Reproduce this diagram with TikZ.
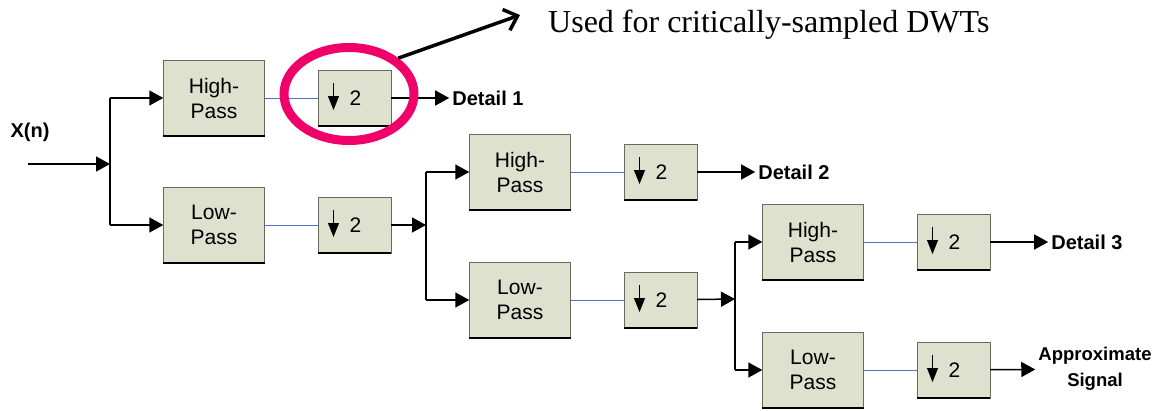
\documentclass[tikz,border=0pt]{standalone}
\usepackage{fontspec}
\setmainfont{Liberation Sans}
\newfontfamily\notefont{Liberation Serif}
\usetikzlibrary{shapes}
\usetikzlibrary{arrows.meta}
\usetikzlibrary{calc}

\definecolor{boxfill}{RGB}{222,225,205}
\definecolor{boxline}{RGB}{105,105,95}
\definecolor{wireblue}{RGB}{70,120,200}
\definecolor{ringred}{RGB}{240,0,105}

\begin{document}
\begin{tikzpicture}[x=1pt, y=-1pt,
    filt/.style={draw=boxline, fill=boxfill, minimum width=101pt,
        minimum height=76pt, inner sep=0pt, align=center,
        font=\fontsize{21}{25}\selectfont},
    dsamp/.style={draw=boxline, fill=boxfill, minimum width=73pt,
        minimum height=56pt, inner sep=0pt,
        font=\fontsize{21}{25}\selectfont,
        path picture={\draw[black, line width=0.8pt,
            -{Triangle[length=14pt,width=11pt]}]
            ($(path picture bounding box.center)+(-21,-15)$) -- +(0,27);}},
    edge/.style={black, line width=2pt},
    lbl/.style={font=\bfseries\fontsize{20}{26}\selectfont, inner sep=3pt},
    wire/.style={black, line width=1.5pt},
    trunk/.style={black, line width=2.4pt},
    feed/.style={wireblue, line width=1pt},
    tip/.style={-{Triangle[length=14pt,width=15pt]}},
    ring/.style={ellipse, draw=ringred, line width=9pt,
        minimum width=130pt, minimum height=93pt, inner sep=0pt},
    callout/.style={black, line width=3.5pt,
        -{Straight Barb[length=12pt,width=22pt]}}]

\useasboundingbox (0,0) rectangle (1163,410);

\coordinate (in) at (28,164);
\node[lbl] (xn) at (30,132) {X(n)};

% one stage: junction, high/low pass, downsamplers
\foreach \s/\fx/\jx/\jy/\yh/\yl/\src in {1/214/110/164/98/225/in,
        2/520/426/225/172/300/dl1, 3/813/735/299/242/370/dl2} {
    \node[filt] (hp\s) at (\fx,\yh) {High-\\Pass};
    \node[filt] (lp\s) at (\fx,\yl) {Low-\\Pass};
    \node[dsamp] (dh\s) at (\fx+140.5,\yh) {\hspace{2pt}2};
    \node[dsamp] (dl\s) at (\fx+140.5,\yl) {\hspace{2pt}2};
    \foreach \n in {hp\s,lp\s,dh\s,dl\s}
        \draw[edge] (\n.south west) -- (\n.south east);

    \coordinate (j\s) at (\jx,\jy);
    \coordinate (th\s) at (\jx,\yh);
    \coordinate (tl\s) at (\jx,\yl);
    \draw[trunk] (th\s) -- (tl\s);
    \draw[wire,tip] (\src) -- (j\s);
    \draw[wire,tip] (th\s) -- (hp\s);
    \draw[wire,tip] (tl\s) -- (lp\s);

    \draw[feed] (hp\s) -- (dh\s);
    \draw[feed] (lp\s) -- (dl\s);

    \node[lbl, anchor=west] (det\s) at ($(dh\s.east)+(58,0)$) {Detail \s};
    \draw[wire,tip] (dh\s) -- (det\s);
}

\node[lbl, align=center, font=\bfseries\fontsize{18.5}{26}\selectfont]
    (apx) at (1095,369) {Approximate\\Signal};
\draw[wire,tip] (dl3) -- (apx);

% note on the first downsampler
\node[ring] (ring) at (349,94) {};
\node[anchor=west, inner sep=0pt, font=\notefont\fontsize{32}{36}\selectfont]
    (note) at (548,25) {Used for critically-sampled DWTs};
\coordinate (ctip) at (520,15);
\draw[callout] (ring.36) -- (ctip);

\end{tikzpicture}
\end{document}
